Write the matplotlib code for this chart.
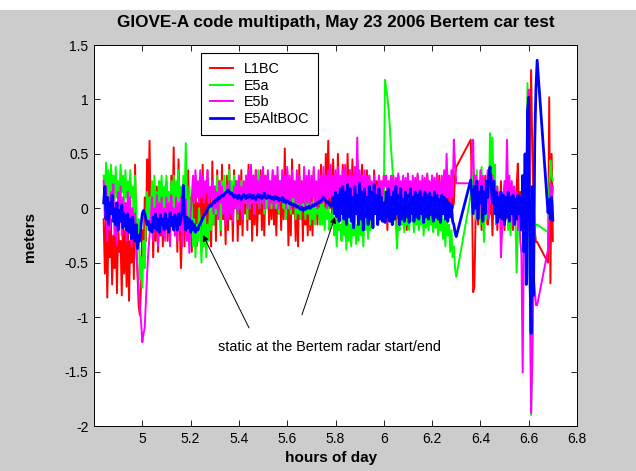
import numpy as np
import matplotlib
matplotlib.use('Agg')
import matplotlib.pyplot as plt
from matplotlib.patches import Rectangle
from matplotlib.ticker import FormatStrFormatter

plt.rcParams['font.family'] = ['Liberation Sans', 'DejaVu Sans']
plt.rcParams['axes.unicode_minus'] = False

# sampling: three continuous stretches of data (hours of day), 0.005 h apart
seg_starts = [4.84, 6.36, 6.68]
seg_lengths = [293, 56, 5]
step = 0.005

# code multipath (meters)
l1bc = [
    -0.10, -0.60, -0.05, -0.82, -0.20, -0.45, -0.10, -0.70, -0.25, -0.55,
    -0.05, -0.78, -0.15, -0.40, -0.30, -0.80, -0.05, -0.60, -0.20, -0.72,
    -0.10, -0.85, -0.30, -0.50, 0.00, -0.65, 0.40, -0.30, -0.60, -0.90,
    -0.98, -0.70, -0.20, -0.50, 0.10, -0.30, 0.45, 0.00, 0.62, -0.20,
    0.15, -0.45, 0.05, -0.30, 0.20, -0.40, -0.05, -0.25, 0.10, -0.35,
    0.00, -0.20, 0.25, -0.30, 0.10, -0.15, 0.30, -0.10, 0.56, -0.25,
    0.20, -0.40, 0.45, -0.15, -0.55, -0.20, 0.10, -0.35, 0.25, -0.10,
    0.35, -0.25, 0.10, -0.40, 0.20, -0.15, 0.30, -0.35, 0.05, -0.20,
    0.25, -0.37, 0.40, -0.10, 0.15, -0.30, 0.35, -0.20, 0.10, -0.35,
    0.43, -0.15, 0.20, -0.30, 0.35, -0.05, 0.25, -0.25, 0.40, -0.10,
    0.15, -0.33, 0.30, -0.20, 0.40, -0.10, 0.20, -0.30, 0.35, 0.00,
    0.25, -0.30, 0.10, -0.15, 0.35, -0.25, 0.20, -0.05, 0.30, -0.20,
    0.40, -0.10, 0.20, -0.30, 0.30, -0.15, 0.35, -0.25, 0.10, -0.05,
    0.35, -0.20, 0.15, -0.25, 0.30, 0.00, 0.25, -0.15, 0.20, -0.10,
    0.30, -0.15, 0.10, -0.25, 0.25, -0.05, 0.20, -0.20, 0.30, -0.10,
    0.55, -0.10, 0.35, -0.34, 0.20, -0.25, 0.45, -0.05, 0.15, -0.30,
    0.25, -0.35, 0.40, -0.10, 0.20, -0.30, 0.35, -0.15, 0.10, -0.25,
    0.30, -0.20, 0.15, -0.25, 0.35, -0.05, 0.20, -0.15, 0.25, -0.10,
    0.40, 0.00, 0.25, -0.10, 0.50, 0.05, 0.62, 0.00, 0.35, -0.05,
    0.45, 0.10, 0.30, -0.05, 0.50, 0.05, 0.25, 0.00, 0.40, 0.10,
    0.30, 0.00, 0.50, 0.05, 0.35, -0.05, 0.45, 0.10, 0.25, 0.00,
    0.45, -0.10, 0.30, 0.05, 0.40, -0.05, 0.20, 0.10, 0.35, -0.05,
    0.30, 0.05, 0.20, -0.05, 0.35, 0.10, 0.25, 0.00, 0.30, -0.05,
    0.20, -0.10, 0.30, 0.00, 0.15, -0.20, 0.25, -0.05, 0.20, -0.15,
    0.25, -0.10, 0.15, -0.20, 0.30, 0.00, 0.20, -0.15, 0.25, -0.05,
    0.15, -0.20, 0.25, 0.00, 0.20, -0.10, 0.25, -0.15, 0.10, -0.05,
    0.30, -0.10, 0.20, 0.00, 0.25, -0.15, 0.15, 0.05, 0.30, -0.05,
    0.20, -0.10, 0.30, 0.05, 0.15, -0.05, 0.25, 0.00, 0.30, -0.10,
    0.20, 0.00, 0.25, -0.10, 0.15, 0.05, 0.30, -0.05, 0.20, 0.00,
    0.05, 0.30, 0.38,
    # after first gap
    0.63, 0.20, -0.77, -0.72, -0.10, 0.20, -0.15, 0.25, 0.05, -0.20,
    0.15, -0.10, 0.30, 0.00, -0.15, 0.20, -0.05, 0.10, -0.25, 0.15,
    -0.05, 0.20, -0.20, 0.10, -0.10, 0.25, -0.15, 0.05, -0.20, 0.15,
    -0.10, 0.20, 0.00, -0.15, 0.10, -0.20, 0.15, -0.05, 0.20, 0.41,
    -0.10, 0.15, -0.20, 0.30, -0.15, 0.25, -0.30, 0.35, -0.20, 0.60,
    1.27, 0.50, 0.10, -0.20, -0.31, -0.31,
    # after second gap
    -0.50, 1.02, -0.69, 0.50, -0.30,
]

e5a = [
    0.30, 0.05, 0.42, 0.10, 0.35, 0.00, 0.40, 0.15, 0.30, 0.05,
    0.38, 0.10, 0.25, 0.05, 0.40, 0.15, 0.30, 0.00, 0.35, 0.10,
    0.25, -0.05, 0.35, 0.10, 0.20, -0.10, 0.30, 0.00, -0.30, -0.10,
    -0.65, -0.45, -0.73, -0.30, -0.55, -0.10, 0.15, -0.20, 0.10, -0.05,
    0.25, -0.10, 0.30, 0.00, 0.15, -0.15, 0.25, 0.05, 0.30, -0.05,
    0.20, -0.10, 0.30, 0.05, 0.15, -0.05, 0.25, 0.00, 0.30, -0.10,
    0.25, 0.00, 0.35, -0.05, 0.20, -0.10, 0.30, 0.05, 0.60, 0.10,
    -0.10, 0.20, -0.20, 0.05, -0.35, -0.10, -0.45, -0.15, -0.30, 0.00,
    -0.20, -0.50, -0.10, -0.35, -0.05, -0.45, -0.15, -0.30, 0.00, -0.20,
    0.10, -0.15, 0.20, -0.05, 0.30, -0.10, 0.15, -0.20, 0.25, 0.00,
    0.30, -0.05, 0.20, 0.05, 0.35, 0.00, 0.25, -0.05, 0.30, 0.05,
    0.20, -0.10, 0.30, 0.00, 0.25, -0.05, 0.15, 0.05, 0.30, -0.10,
    0.35, 0.00, 0.25, 0.05, 0.30, -0.05, 0.20, 0.10, 0.35, 0.00,
    0.25, 0.05, 0.30, -0.05, 0.20, 0.00, 0.30, 0.10, 0.25, 0.00,
    0.35, 0.05, 0.20, 0.00, 0.30, -0.05, 0.25, 0.10, 0.35, 0.00,
    0.20, -0.10, 0.30, 0.00, 0.25, -0.05, 0.15, 0.05, 0.25, -0.10,
    0.20, -0.05, 0.10, -0.10, 0.15, 0.00, 0.20, -0.10, 0.10, -0.05,
    0.15, -0.15, 0.05, -0.10, 0.10, -0.15, 0.15, -0.05, 0.00, -0.15,
    0.10, -0.15, 0.05, -0.20, 0.00, -0.10, 0.05, -0.20, -0.05, -0.15,
    0.00, -0.25, -0.10, -0.35, -0.05, -0.20, -0.15, -0.30, 0.00, -0.25,
    -0.10, -0.38, -0.05, -0.30, -0.15, -0.35, -0.10, -0.25, -0.05, -0.33,
    -0.15, -0.30, 0.00, -0.25, -0.10, -0.35, -0.05, -0.20, 0.00, -0.28,
    0.05, -0.20, 0.15, -0.10, 0.20, -0.05, 0.10, -0.15, 0.15, 0.00,
    0.10, -0.05, 0.10, 1.18, 1.10, 1.02, 0.90, 0.75, 0.55, 0.40,
    0.20, 0.02, -0.18, -0.37, -0.10, -0.20, 0.00, -0.15, -0.05, -0.22,
    0.00, -0.15, -0.05, -0.20, 0.05, -0.12, -0.05, -0.22, 0.00, -0.15,
    -0.05, -0.20, 0.05, -0.15, -0.05, -0.25, 0.00, -0.18, -0.05, -0.20,
    0.00, -0.15, -0.10, -0.22, 0.05, -0.18, -0.05, -0.25, -0.10, -0.20,
    -0.05, -0.28, -0.10, -0.35, -0.05, -0.25, -0.15, -0.40, -0.20, -0.45,
    -0.35, -0.55, -0.63,
    # after first gap
    0.12, 0.30, -0.05, 0.25, -0.10, 0.35, 0.00, 0.20, -0.15, 0.38,
    -0.05, -0.31, 0.10, -0.10, 0.20, 0.05, 0.69, 0.30, 0.65, 0.10,
    0.40, -0.10, 0.20, -0.05, 0.15, -0.20, 0.10, -0.15, 0.20, -0.05,
    0.15, -0.20, 0.05, -0.25, 0.10, -0.15, 0.20, -0.10, -0.59, -0.20,
    0.10, -0.15, 0.05, -0.20, 0.15, -0.25, 0.05, 1.15, 0.20, -0.80,
    -1.90, -1.20, -0.40, -0.20, -0.15, -0.15,
    # after second gap
    -0.22, 0.20, 0.44, 0.30, 0.25,
]

e5b = [
    0.25, -0.10, 0.20, -0.30, 0.10, -0.20, 0.15, -0.05, 0.22, -0.25,
    0.05, -0.34, 0.15, -0.10, 0.20, -0.25, 0.10, -0.15, 0.05, -0.30,
    0.15, -0.20, 0.10, -0.35, 0.00, -0.25, -0.05, -0.40, -0.55, -0.75,
    -0.90, -1.05, -1.23, -1.15, -1.10, -0.85, -0.60, -0.40, -0.25, -0.10,
    0.10, -0.30, 0.00, -0.20, 0.12, -0.35, 0.05, -0.15, 0.10, -0.25,
    0.00, -0.30, 0.10, -0.20, 0.05, -0.35, 0.12, -0.10, 0.00, -0.25,
    0.10, -0.30, 0.05, -0.20, 0.10, -0.35, 0.00, -0.15, 0.08, -0.30,
    -0.10, -0.41, -0.05, 0.10, 0.30, 0.05, 0.35, 0.10, 0.25, 0.05,
    0.35, 0.10, 0.30, 0.05, 0.25, 0.15, 0.35, 0.05, 0.20, 0.10,
    0.25, -0.05, 0.20, 0.00, 0.15, -0.10, 0.25, 0.05, 0.20, -0.05,
    0.15, -0.15, 0.20, -0.10, 0.25, -0.05, 0.15, -0.12, 0.20, 0.00,
    0.25, -0.05, 0.30, 0.00, 0.20, -0.10, 0.25, 0.05, 0.30, 0.00,
    0.35, 0.00, 0.40, 0.05, 0.30, -0.05, 0.35, 0.05, 0.25, 0.00,
    0.30, 0.05, 0.38, 0.00, 0.30, 0.10, 0.35, 0.00, 0.25, 0.05,
    0.35, 0.00, 0.30, 0.05, 0.38, 0.00, 0.25, 0.10, 0.35, 0.05,
    0.30, 0.00, 0.38, 0.05, 0.30, 0.00, 0.35, 0.10, 0.25, 0.00,
    0.35, 0.05, 0.30, 0.00, 0.25, 0.05, 0.38, 0.00, 0.30, 0.05,
    0.35, 0.00, 0.30, 0.10, 0.38, 0.05, 0.25, 0.00, 0.35, 0.05,
    0.30, 0.05, 0.38, 0.10, 0.30, 0.00, 0.35, 0.10, 0.40, 0.05,
    0.30, 0.10, 0.35, 0.05, 0.38, 0.10, 0.30, 0.00, 0.35, 0.10,
    0.40, 0.05, 0.30, 0.10, 0.35, 0.00, 0.30, 0.10, 0.38, 0.05,
    0.65, 0.10, 0.35, 0.05, 0.30, 0.10, 0.35, 0.00, 0.30, 0.10,
    0.30, 0.05, 0.25, 0.00, 0.30, 0.10, 0.20, 0.05, 0.30, 0.15,
    0.25, 0.10, 0.30, 0.20, 0.30, 0.10, 0.25, 0.05, 0.30, 0.10,
    0.30, 0.05, 0.28, 0.10, 0.32, 0.05, 0.25, 0.10, 0.30, 0.08,
    0.28, 0.05, 0.32, 0.10, 0.25, 0.05, 0.30, 0.10, 0.28, 0.05,
    0.32, 0.08, 0.25, 0.05, 0.30, 0.10, 0.28, 0.05, 0.32, 0.10,
    0.25, 0.05, 0.30, 0.10, 0.28, 0.05, 0.32, 0.08, 0.25, 0.05,
    0.30, 0.10, 0.35, 0.05, 0.50, 0.10, 0.30, 0.05, 0.35, 0.10,
    0.63, 0.40, 0.23,
    # after first gap
    0.23, 0.45, 0.63, 0.10, 0.30, -0.05, 0.25, 0.00, 0.35, -0.10,
    0.30, -0.05, 0.25, 0.05, 0.35, -0.10, 0.20, 0.05, 0.30, -0.05,
    0.25, -0.15, 0.20, -0.10, 0.15, -0.45, -0.20, 0.10, 0.25, 0.05,
    0.63, 0.10, 0.30, 0.00, 0.25, -0.15, 0.20, -0.10, 0.15, -0.20,
    0.10, -0.30, -0.42, -1.51, -0.20, 0.20, -0.10, 0.40, 1.09, -0.50,
    -1.88, -1.40, -0.60, -0.75, -0.89, -0.89,
    # after second gap
    -0.38, -0.10, 0.23, 0.05, 0.20,
]

e5altboc = [
    0.05, 0.20, -0.10, 0.10, -0.15, 0.05, -0.05, 0.12, -0.12, 0.00,
    -0.15, 0.05, -0.20, -0.02, -0.12, 0.03, -0.18, -0.05, -0.10, -0.20,
    -0.05, -0.22, -0.10, -0.28, -0.08, -0.20, -0.30, -0.15, -0.37, -0.25,
    -0.30, -0.15, -0.05, -0.02, -0.05, -0.10, -0.15, -0.12, -0.20, -0.15,
    -0.22, -0.08, -0.18, -0.05, -0.20, -0.10, -0.22, -0.06, -0.15, -0.10,
    -0.20, -0.05, -0.18, -0.10, -0.22, -0.04, -0.16, -0.08, -0.20, -0.06,
    -0.12, -0.20, -0.05, -0.15, -0.10, -0.02, 0.21, -0.10, -0.20, -0.08,
    -0.18, -0.10, -0.22, -0.12, -0.20, -0.15, -0.22, -0.18, -0.20, -0.16,
    -0.14, -0.12, -0.09, -0.07, -0.05, -0.04, -0.01, 0.01, 0.03, 0.02,
    0.04, 0.06, 0.05, 0.08, 0.07, 0.10, 0.09, 0.11, 0.12, 0.11,
    0.13, 0.14, 0.15, 0.17, 0.15, 0.13, 0.14, 0.12, 0.10, 0.12,
    0.11, 0.09, 0.12, 0.10, 0.08, 0.11, 0.13, 0.10, 0.09, 0.12,
    0.10, 0.13, 0.11, 0.09, 0.12, 0.10, 0.08, 0.11, 0.13, 0.10,
    0.12, 0.09, 0.11, 0.14, 0.10, 0.09, 0.12, 0.10, 0.11, 0.09,
    0.10, 0.08, 0.11, 0.09, 0.10, 0.07, 0.09, 0.08, 0.10, 0.06,
    0.08, 0.05, 0.07, 0.06, 0.04, 0.05, 0.03, 0.04, 0.02, 0.03,
    0.01, 0.02, 0.00, -0.01, 0.01, -0.02, 0.00, -0.01, 0.01, 0.00,
    0.02, 0.00, 0.01, 0.03, 0.02, 0.04, 0.03, 0.05, 0.06, 0.05,
    0.07, 0.08, 0.10, 0.09, 0.07, 0.05, 0.06, 0.03, 0.02, 0.05,
    0.10, -0.05, 0.15, -0.08, 0.12, -0.12, 0.18, -0.05, 0.20, -0.10,
    0.15, -0.15, 0.22, -0.08, 0.18, -0.12, 0.10, -0.18, 0.20, -0.05,
    0.12, -0.15, 0.23, -0.10, 0.15, -0.20, 0.18, -0.08, 0.10, -0.15,
    0.20, -0.10, 0.15, -0.18, 0.22, -0.05, 0.12, -0.15, 0.18, -0.10,
    0.10, -0.12, 0.05, -0.13, 0.15, -0.08, 0.18, -0.12, 0.10, -0.15,
    0.15, -0.10, 0.20, -0.05, 0.12, -0.15, 0.18, -0.10, 0.08, -0.12,
    0.15, -0.08, 0.12, -0.13, 0.18, -0.05, 0.10, -0.12, 0.15, -0.08,
    0.12, -0.10, 0.16, -0.05, 0.10, -0.13, 0.15, -0.08, 0.12, -0.10,
    0.14, -0.06, 0.10, -0.12, 0.15, -0.08, 0.12, -0.10, 0.08, -0.13,
    0.12, -0.05, 0.10, -0.10, 0.08, -0.12, 0.05, -0.08, 0.03, -0.12,
    -0.15, -0.22, -0.26,
    # after first gap
    0.26, 0.10, -0.05, 0.20, 0.00, 0.25, -0.10, 0.15, 0.05, 0.20,
    -0.12, 0.15, -0.05, 0.25, 0.10, 0.30, 0.38, 0.20, 0.05, 0.25,
    -0.05, 0.15, -0.13, 0.10, -0.08, 0.15, -0.10, 0.12, -0.15, 0.10,
    -0.08, 0.15, -0.12, 0.10, -0.05, 0.12, -0.15, 0.08, -0.10, 0.12,
    -0.05, 0.10, -0.20, 0.30, -0.40, 0.50, -0.70, 0.90, 1.02, -0.60,
    -1.15, 0.20, -0.80, 0.60, 1.10, 1.36,
    # after second gap
    -0.04, 0.08, -0.10, 0.10, -0.11,
]

series = [('L1BC', l1bc, '#ff0000', 1.4),
          ('E5a', e5a, '#00ff00', 1.4),
          ('E5b', e5b, '#ff00ff', 1.4),
          ('E5AltBOC', e5altboc, '#0000ff', 2.0)]

hours = np.concatenate([s + step * np.arange(n) for s, n in zip(seg_starts, seg_lengths)])

xticks = [5, 5.2, 5.4, 5.6, 5.8, 6, 6.2, 6.4, 6.6, 6.8]
yticks = [-2, -1.5, -1, -0.5, 0, 0.5, 1, 1.5]

W, H = 636, 471
fig = plt.figure(figsize=(W / 100, H / 100), dpi=100, facecolor='#cccccc')
fig.patches.append(Rectangle((0, 1 - 10 / H), 1, 10 / H, transform=fig.transFigure,
                             facecolor='white', edgecolor='none', zorder=0))
ax = fig.add_axes([94 / W, 45 / H, 483 / W, 381 / H])

for name, vals, col, lw in series:
    ax.plot(hours, vals, color=col, lw=lw, label=name)

ax.set_xlim(4.8, 6.8)
ax.set_ylim(-2, 1.5)
ax.set_xticks(xticks)
ax.set_yticks(yticks)
ax.xaxis.set_major_formatter(FormatStrFormatter('%g'))
ax.yaxis.set_major_formatter(FormatStrFormatter('%g'))
ax.tick_params(direction='in', top=True, right=True, length=4, width=0.6,
               labelsize=10, pad=4)
for sp in ax.spines.values():
    sp.set_linewidth(0.7)

leg = ax.legend(loc='upper left', bbox_to_anchor=(0.2215, 0.979), borderaxespad=0,
                fancybox=False, edgecolor='black', framealpha=1, fontsize=10.4,
                handlelength=1.6, handletextpad=0.75, labelspacing=0.2, borderpad=0.6)
leg.get_frame().set_linewidth(0.8)

# annotation for the static periods
ax.annotate('', xy=(5.251, -0.245), xytext=(5.442, -1.099),
            arrowprops=dict(arrowstyle='-|>', color='black', lw=0.7,
                            mutation_scale=9, shrinkA=0, shrinkB=0))
ax.annotate('', xy=(5.798, -0.079), xytext=(5.661, -0.979),
            arrowprops=dict(arrowstyle='-|>', color='black', lw=0.7,
                            mutation_scale=9, shrinkA=0, shrinkB=0))
ax.text(5.313, -1.273, 'static at the Bertem radar start/end', fontsize=10.4,
        ha='left', va='center')

fig.text(335.5 / W, 1 - 22 / H, 'GIOVE-A code multipath, May 23 2006 Bertem car test',
         ha='center', va='center', fontsize=12.3, fontweight='bold')
fig.text(331 / W, 1 - 458 / H, 'hours of day', ha='center', va='center',
         fontsize=11, fontweight='bold')
fig.text(30 / W, 1 - 237 / H, 'meters', ha='center', va='center', rotation=90,
         fontsize=11, fontweight='bold')

fig.savefig('out.png', dpi=100, facecolor=fig.get_facecolor())
